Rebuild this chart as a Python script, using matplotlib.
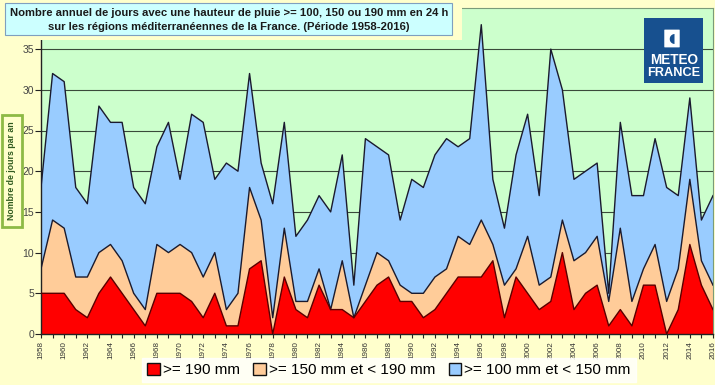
import matplotlib
matplotlib.use("Agg")
import matplotlib.pyplot as plt
from matplotlib.patches import Rectangle, FancyBboxPatch, Patch
import numpy as np

plt.rcParams['font.family'] = ['Liberation Sans', 'DejaVu Sans']

years = list(range(1958, 2017))
ge100 = [18, 32, 31, 18, 16, 28, 26, 26, 18, 16, 23, 26, 19, 27, 26, 19, 21, 20, 32, 21,
         16, 26, 12, 14, 17, 15, 22, 6, 24, 23, 22, 14, 19, 18, 22, 24, 23, 24, 38, 19,
         13, 22, 27, 17, 35, 30, 19, 20, 21, 5, 26, 17, 17, 24, 18, 17, 29, 14, 17]
ge150 = [8, 14, 13, 7, 7, 10, 11, 9, 5, 3, 11, 10, 11, 10, 7, 10, 3, 5, 18, 14,
         2, 13, 4, 4, 8, 3, 9, 2, 6, 10, 9, 6, 5, 5, 7, 8, 12, 11, 14, 11,
         6, 8, 12, 6, 7, 14, 9, 10, 12, 4, 13, 4, 8, 11, 4, 8, 19, 9, 6]
ge190 = [5, 5, 5, 3, 2, 5, 7, 5, 3, 1, 5, 5, 5, 4, 2, 5, 1, 1, 8, 9,
         0, 7, 3, 2, 6, 3, 3, 2, 4, 6, 7, 4, 4, 2, 3, 5, 7, 7, 7, 9,
         2, 7, 5, 3, 4, 10, 3, 5, 6, 1, 3, 1, 6, 6, 0, 3, 11, 6, 3]

labels = [">= 190 mm", ">= 150 mm et < 190 mm", ">= 100 mm et < 150 mm"]
colors = ["#FF0000", "#FFCC99", "#99CCFF"]
title_lines = ["Nombre annuel de jours avec une hauteur de pluie >= 100, 150 ou 190 mm en 24 h",
               "sur les régions méditerranéennes de la France. (Période 1958-2016)"]
ylabel = "Nombre de jours par an"

W, H = 715, 385
fig = plt.figure(figsize=(W / 100, H / 100), dpi=100, facecolor="#FFFFCC")

def fx(x):
    return x / W

def fy(y):
    return 1 - y / H

ax = fig.add_axes([fx(41), fy(334), (713 - 41) / W, (334 - 8.4) / H])
ax.set_facecolor("#CCFFCC")

yrs = np.array(years)
a100 = np.array(ge100)
a150 = np.array(ge150)
a190 = np.array(ge190)
edge = "#1A1A2E"
ax.fill_between(yrs, a150, a100, facecolor=colors[2], edgecolor="none", zorder=2)
ax.fill_between(yrs, a190, a150, facecolor=colors[1], edgecolor="none", zorder=2)
ax.fill_between(yrs, 0, a190, facecolor=colors[0], edgecolor="none", zorder=2)
ax.plot(yrs, a100, color=edge, lw=1.0, zorder=3)
ax.plot(yrs, a150, color=edge, lw=1.0, zorder=3)
ax.plot(yrs, a190, color="#5A0000", lw=1.0, zorder=3)

ax.set_xlim(1958, 2016)
ax.set_ylim(0, 40)
ax.set_yticks(range(0, 40, 5))
ax.yaxis.grid(True, color="#3A4A3A", lw=0.8, zorder=1)
ax.set_axisbelow(True)
ax.set_xticks(range(1958, 2017, 2))
ax.set_xticks(range(1958, 2017, 1), minor=True)
ax.set_xticklabels([str(y) for y in range(1958, 2017, 2)], rotation=90, fontsize=5.8, color="#333333")
ax.tick_params(axis="y", labelsize=7.5, labelcolor="#444444", length=4, width=0.8, pad=1, color="#222222")
ax.tick_params(axis="x", which="both", length=3, width=0.8, pad=2, color="#222222")
for s in ["top", "right"]:
    ax.spines[s].set_color("#7A9A7A")
    ax.spines[s].set_linewidth(0.8)
for s in ["left", "bottom"]:
    ax.spines[s].set_color("#222222")
    ax.spines[s].set_linewidth(1.0)

# Title box with yellow padding
fig.patches.append(Rectangle((0, fy(40)), fx(462), 1 - fy(40), transform=fig.transFigure,
                             facecolor="#FFFFCC", edgecolor="none", zorder=5))
fig.patches.append(Rectangle((fx(5), fy(35)), fx(452) - fx(5), fy(3) - fy(35), transform=fig.transFigure,
                             facecolor="#CCFFFF", edgecolor="#7F9FBF", lw=0.8, zorder=6))
fig.text(fx(229), fy(13), title_lines[0], ha="center", va="center", fontsize=8.1,
         fontweight="bold", color="#1A1A1A", zorder=7)
fig.text(fx(229), fy(26.5), title_lines[1], ha="center", va="center", fontsize=8.1,
         fontweight="bold", color="#1A1A1A", zorder=7)

# Y label box
fig.patches.append(Rectangle((fx(1.5), fy(227)), fx(22) - fx(1.5), fy(115) - fy(227), transform=fig.transFigure,
                             facecolor="#FFFFCC", edgecolor="#8DBA45", lw=2, zorder=6))
fig.text(fx(12), fy(171), ylabel, rotation=90, ha="center", va="center", fontsize=6.3,
         fontweight="bold", color="#2F5A1E", zorder=7)

# Logo
fig.patches.append(Rectangle((fx(644), fy(83)), fx(703) - fx(644), fy(18) - fy(83), transform=fig.transFigure,
                             facecolor="#17508F", edgecolor="none", zorder=6))
fig.patches.append(FancyBboxPatch((fx(665), fy(47)), fx(14), fy(30) - fy(47), transform=fig.transFigure,
                                  boxstyle="round,pad=0.001", facecolor="white", edgecolor="none", zorder=7))
fig.text(fx(671.5), fy(38.5), "\u25D6", ha="center", va="center", fontsize=9, color="#17508F",
         family=["DejaVu Sans"], zorder=8)
fig.text(fx(674), fy(60), "METEO", ha="center", va="center", fontsize=9.8, fontweight="bold",
         color="white", zorder=8)
fig.text(fx(674), fy(73.5), "FRANCE", ha="center", va="center", fontsize=9.2, fontweight="bold",
         color="white", zorder=8)

# Legend
handles = [Patch(facecolor=c, edgecolor="#111111", lw=1.0) for c in colors]
leg = fig.legend(handles, labels, loc="center", bbox_to_anchor=(fx(389), fy(370)), ncol=3,
                 fontsize=11, frameon=True, fancybox=False, handlelength=0.8, handleheight=0.8,
                 handletextpad=0.2, columnspacing=0.9, borderpad=0.35, borderaxespad=0)
leg.get_frame().set_facecolor("white")
leg.get_frame().set_edgecolor("white")

fig.savefig("out.png", dpi=100, facecolor=fig.get_facecolor())
